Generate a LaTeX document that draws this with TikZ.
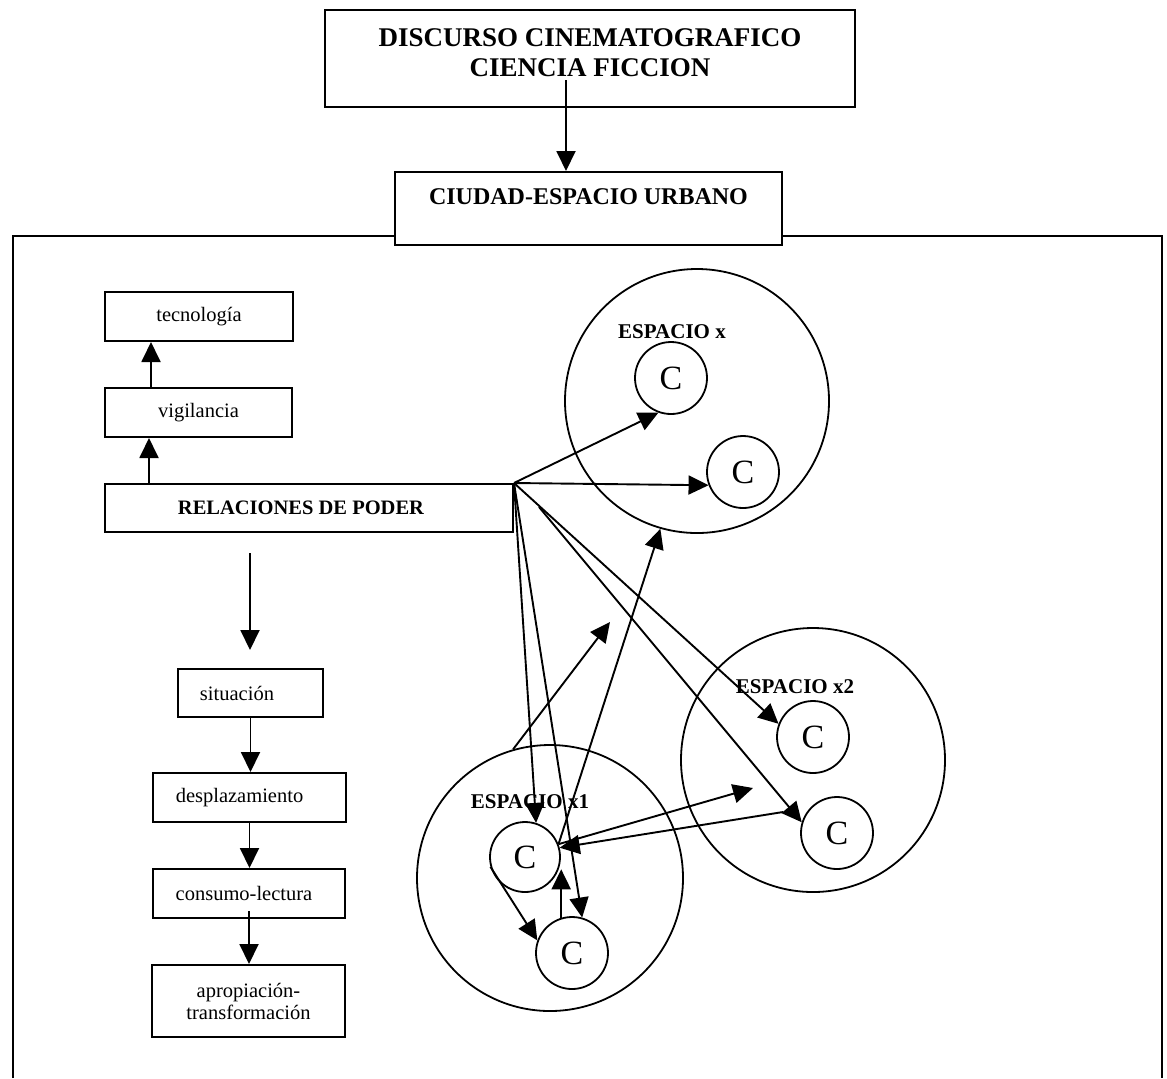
\documentclass[tikz,border=0pt]{standalone}
\usepackage{fontspec}
\setmainfont{Liberation Serif}
\usetikzlibrary{arrows.meta}
\begin{document}
\begin{tikzpicture}[x=0.5pt,y=-0.5pt,
  box/.style={draw, line width=1pt, rectangle, inner sep=0pt, align=center,
    font=\fontsize{10.25}{11}\selectfont},
  bigc/.style={draw, circle, line width=0.9pt, minimum size=132pt, inner sep=0pt},
  smc/.style={draw, circle, line width=0.9pt, minimum size=36pt, inner sep=0pt,
    font=\fontsize{17}{20}\selectfont},
  lbl/.style={inner sep=0pt, font=\bfseries\fontsize{10.5}{12}\selectfont},
  arr/.style={line width=0.95pt, -{Triangle[length=10pt,width=9.5pt]}},
  frame/.style={line width=1pt}
]
\useasboundingbox (0,0) rectangle (1167,1078);

% outer frame (open at the bottom)
\draw[frame] (13,1078) -- (13,236) -- (1162,236) -- (1162,1078);

% top boxes
\node[box, minimum width=265pt, minimum height=48.5pt] (disc) at (590,58.5) {};
\node[align=center, inner sep=0pt, font=\bfseries\fontsize{13.5}{15}\selectfont]
  (disctext) at (590,53) {DISCURSO CINEMATOGRAFICO\\CIENCIA FICCION};
\node[box, minimum width=193.5pt, minimum height=36.5pt, fill=white] (ciudad) at (588.5,208.5) {};
\node[inner sep=0pt, font=\bfseries\fontsize{12}{14}\selectfont]
  (ciudadtext) at (588.5,197) {CIUDAD-ESPACIO URBANO};
\draw[arr] ([xshift=-12pt,yshift=-10.75pt]disc.center) -- ([xshift=-11.25pt]ciudad.north);

% left column
\node[box, minimum width=94pt, minimum height=24.5pt] (tec) at (199,316.5) {tecnología};
\node[box, minimum width=93.5pt, minimum height=24.5pt] (vig) at (198.5,412.5) {vigilancia};
\node[box, minimum width=204pt, minimum height=24pt, font=\bfseries\fontsize{10.25}{12}\selectfont]
  (rel) at (309,508) {RELACIONES DE PODER\hspace*{8pt}};
\node[box, minimum width=72.5pt, minimum height=24pt] (sit) at (250.5,693) {situación\hspace*{13.5pt}};
\node[box, minimum width=96.5pt, minimum height=24.5pt] (desp) at (249.5,797.5) {desplazamiento\hspace*{10pt}};
\node[box, minimum width=96pt, minimum height=24.5pt] (cons) at (249,893.5) {consumo-lectura\hspace*{5pt}};
\node[box, minimum width=96.5pt, minimum height=36pt] (apro) at (248.5,1001) {apropiación-\\transformación};

\draw[arr] ([xshift=22.5pt]rel.north west) -- ([xshift=22.5pt]vig.south west);
\draw[arr] ([xshift=23.5pt]vig.north west) -- ([xshift=23.5pt]tec.south west);
\coordinate (d0) at (250,553);
\coordinate (d1) at (250,650);
\draw[arr] (d0) -- (d1);
\draw[arr] (sit.south) -- (sit.south |- desp.north);
\draw[arr] (desp.south) -- (desp.south |- cons.north);
\draw[arr] ([yshift=4pt]cons.south) -- (cons.south |- apro.north);

% spaces
\node[bigc] (EX) at (697,401) {};
\node[lbl] (EXl) at (672,332) {ESPACIO x};
\node[smc] (cxa) at (671,378) {C};
\node[smc] (cxb) at (743,472) {C};

\node[bigc, minimum size=133pt] (E1) at (550,878) {};
\node[lbl] (E1l) at (530,802) {ESPACIO x1};
\node[smc, minimum size=35pt] (c1a) at (525,857) {C};
\node[smc] (c1b) at (572,953) {C};

\node[bigc] (E2) at (813,760) {};
\node[lbl] (E2l) at (795,687) {ESPACIO x2};
\node[smc] (c2a) at (813,737) {C};
\node[smc] (c2b) at (837,833) {C};

% relations arrows
\draw[arr] (rel.north east) -- (cxa.250);
\draw[arr] (rel.north east) -- (cxb.201);
\draw[arr] (rel.north east) -- (c1a.72);
\draw[arr] (rel.north east) -- (c1b.74);
\draw[arr] (rel.north east) -- (c2a.159);
\coordinate (s6) at (539,507);
\draw[arr] (s6) -- (c2b.163);

\draw[arr] (c1a.21) -- (EX.254);
\coordinate (f8) at (610,622);
\draw[arr] (E1.106) -- (f8);
\coordinate (f9) at (753,788);
\draw[arr] (c1a.21) -- (f9);
\coordinate (s10) at (783,812);
\draw[arr] (s10) -- (c1a.15);
\draw[arr] (c1a.196) -- (c1b.160);
\draw[arr] (c1b.107) -- (c1b.107 |- c1a.340);
\end{tikzpicture}
\end{document}
